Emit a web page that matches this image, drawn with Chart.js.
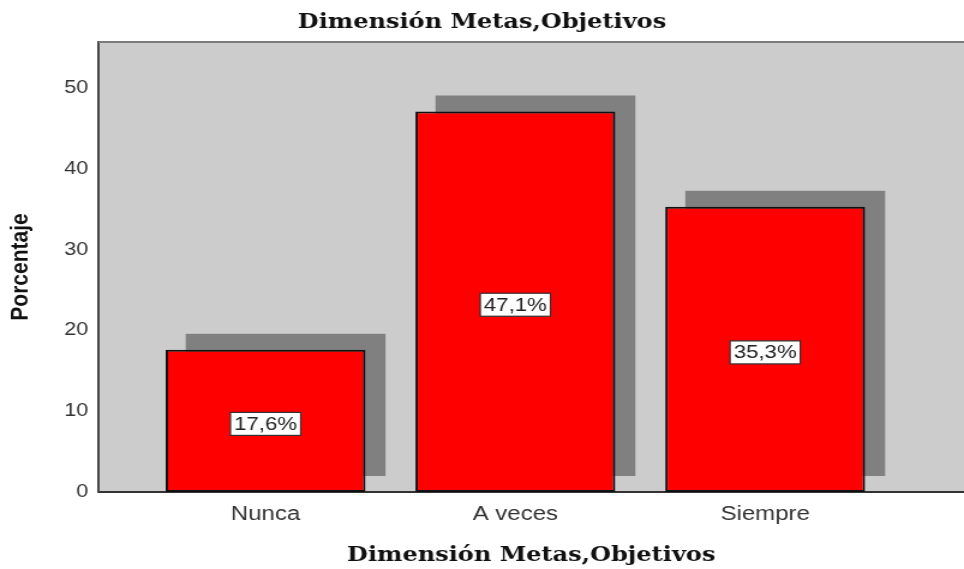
<!DOCTYPE html>
<html>
<head>
<meta charset="utf-8">
<script src="https://cdn.jsdelivr.net/npm/chart.js@4/dist/chart.umd.min.js"></script>
<style>
  html, body { margin: 0; padding: 0; background: #fff; overflow: hidden; }
  /* the chart is laid out narrower and stretched sideways, like the SPSS export */
  #wrap { width: 803px; height: 569px; transform: scaleX(1.2005); transform-origin: 0 0; }
</style>
</head>
<body>
<div id="wrap"><canvas id="metasChart"></canvas></div>
<script>
const categories  = ["Nunca", "A veces", "Siempre"];
const porcentajes = [17.6, 47.1, 35.3];
const yTicks      = [0, 10, 20, 30, 40, 50];

const SANS  = '"Liberation Sans", Arial, sans-serif';
const SERIF = '"DejaVu Serif", serif';

// Grey plot background plus the top frame line
const plotFrame = {
  id: "plotFrame",
  beforeDraw(chart) {
    const { ctx, chartArea: a } = chart;
    ctx.save();
    ctx.fillStyle = "#cccccc";
    ctx.fillRect(a.left, a.top, a.right - a.left, a.bottom - a.top);
    ctx.restore();
  },
  afterDraw(chart) {
    const { ctx, chartArea: a } = chart;
    ctx.save();
    ctx.strokeStyle = "#7a7a7a";
    ctx.lineWidth = 2;
    ctx.beginPath();
    ctx.moveTo(a.left, a.top);
    ctx.lineTo(a.right, a.top);
    ctx.stroke();
    ctx.restore();
  }
};

// Dark grey block behind each bar, shifted up and to the right
const barShadow = {
  id: "barShadow",
  beforeDatasetsDraw(chart) {
    const { ctx } = chart;
    const dx = 16.7, dy = -16;
    ctx.save();
    ctx.fillStyle = "#808080";
    chart.getDatasetMeta(0).data.forEach(bar => {
      const { x, y, base, width } = bar.getProps(["x", "y", "base", "width"], true);
      ctx.fillRect(x - width / 2 + dx, y + dy, width, base - y);
    });
    ctx.restore();
  }
};

// White boxed percentage in the middle of each bar
const valueBoxes = {
  id: "valueBoxes",
  afterDatasetsDraw(chart) {
    const { ctx } = chart;
    ctx.save();
    ctx.font = "18.5px " + SANS;
    ctx.textAlign = "center";
    ctx.textBaseline = "middle";
    chart.getDatasetMeta(0).data.forEach((bar, i) => {
      const { x, y, base } = bar.getProps(["x", "y", "base"], true);
      const text = porcentajes[i].toFixed(1).replace(".", ",") + "%";
      const cy = (y + base) / 2 + 3;
      const w = ctx.measureText(text).width + 6;
      const h = 23;
      ctx.fillStyle = "#ffffff";
      ctx.fillRect(x - w / 2, cy - h / 2, w, h);
      ctx.strokeStyle = "#333";
      ctx.lineWidth = 1.2;
      ctx.strokeRect(x - w / 2, cy - h / 2, w, h);
      ctx.fillStyle = "#222";
      ctx.fillText(text, x, cy + 1);
    });
    ctx.restore();
  }
};

new Chart(document.getElementById("metasChart"), {
  type: "bar",
  data: {
    datasets: [{
      label: "Porcentaje",
      data: porcentajes.map((v, i) => ({ x: i, y: v })),
      backgroundColor: "#ff0000",
      borderColor: "#111",
      borderWidth: 2,
      borderSkipped: false,
      barPercentage: 0.8,
      categoryPercentage: 1.0
    }]
  },
  options: {
    responsive: true,
    maintainAspectRatio: false,
    animation: false,
    layout: { padding: 0 },
    plugins: {
      legend: { display: false },
      tooltip: { enabled: false },
      title: {
        display: true,
        text: "Dimensión Metas,Objetivos",
        color: "#111",
        font: { family: SERIF, size: 20, weight: "bold" },
        padding: { top: 11, bottom: 7 }
      }
    },
    scales: {
      x: {
        type: "linear",
        offset: false,
        min: -0.669,
        max: 2.796,
        grid: { display: false, drawTicks: false, offset: false },
        border: { display: true, color: "#333", width: 2 },
        afterBuildTicks: s => { s.ticks = categories.map((_, i) => ({ value: i })); },
        afterFit: s => { s.height = 77; },
        ticks: {
          padding: 10,
          color: "#333",
          font: { family: SANS, size: 20 },
          callback: v => categories[v]
        },
        title: {
          display: true,
          text: "Dimensión Metas,Objetivos",
          color: "#111",
          font: { family: SERIF, size: 20, weight: "bold" },
          padding: { top: 0, bottom: 1 }
        }
      },
      y: {
        min: 0,
        max: 55.7,
        grid: { display: false, drawTicks: false },
        border: { display: true, color: "#444", width: 2 },
        afterBuildTicks: s => { s.ticks = yTicks.map(v => ({ value: v })); },
        afterFit: s => { s.width = 82; },
        ticks: {
          padding: 8.5,
          color: "#333",
          font: { family: SANS, size: 18 }
        },
        title: {
          display: true,
          text: "Porcentaje",
          color: "#111",
          font: { family: SANS, size: 21, weight: "bold" },
          padding: { top: 5, bottom: 0 }
        }
      }
    }
  },
  plugins: [plotFrame, barShadow, valueBoxes]
});
</script>
</body>
</html>
